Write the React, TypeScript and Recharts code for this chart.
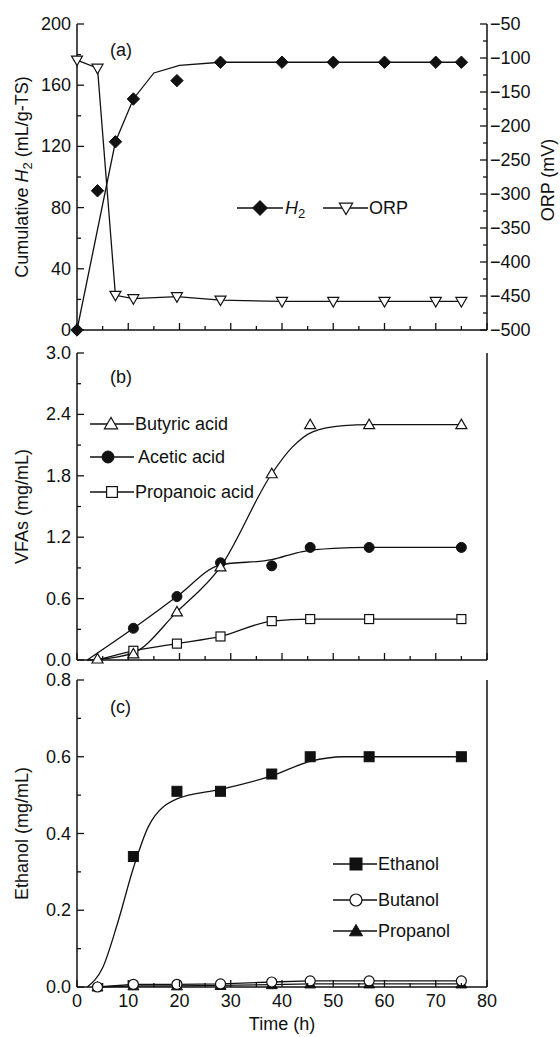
import React from 'react';
import { LineChart, Line, XAxis, YAxis, Legend } from 'recharts';

const FONT = '"Liberation Sans", Arial, Helvetica, sans-serif';
const FS = 18;
const INK = '#111';

// ---- panel (a): cumulative H2 and ORP ----
const timeA = [0, 4, 7.5, 11, 19.5, 28, 40, 50, 60, 70, 75];
const h2 = [0, 91, 123, 151, 163, 175, 175, 175, 175, 175, 175];
const orp = [-103, -115, -449, -454, -451, -456, -458, -458, -458, -458, -458];
const h2FitTime = [0, 7.5, 11, 15, 20, 28, 75];
const h2Fit = [0, 123, 151, 168, 173, 175, 175];

// ---- panel (b): VFAs ----
const timeB = [4, 11, 19.5, 28, 38, 45.5, 57, 75];
const butyric = [0.01, 0.06, 0.47, 0.91, 1.82, 2.3, 2.3, 2.3];
const acetic = [null, 0.31, 0.62, 0.95, 0.92, 1.1, 1.1, 1.1];
const propanoic = [null, 0.09, 0.16, 0.23, 0.38, 0.4, 0.4, 0.4];
const butyricFitTime = [2, 4, 11, 19.5, 28, 38, 42, 46, 52, 57, 75];
const butyricFit = [0, 0.005, 0.07, 0.47, 0.91, 1.82, 2.08, 2.23, 2.29, 2.3, 2.3];
const aceticFitTime = [2, 11, 19.5, 28, 38, 44, 50, 57, 75];
const aceticFit = [0, 0.31, 0.62, 0.93, 0.98, 1.06, 1.09, 1.1, 1.1];
const propanoicFitTime = [4, 11, 19.5, 28, 38, 45.5, 57, 75];
const propanoicFit = [0, 0.09, 0.16, 0.23, 0.38, 0.4, 0.4, 0.4];

// ---- panel (c): alcohols ----
const timeC = [4, 11, 19.5, 28, 38, 45.5, 57, 75];
const ethanol = [null, 0.34, 0.51, 0.51, 0.555, 0.6, 0.6, 0.6];
const butanol = [0, 0.007, 0.007, 0.008, 0.013, 0.016, 0.016, 0.016];
const propanol = [0, 0.003, 0.003, 0.004, 0.006, 0.008, 0.008, 0.008];
const ethanolFitTime = [2, 5, 8, 11, 14, 19.5, 28, 38, 45.5, 52, 75];
const ethanolFit = [0, 0.05, 0.17, 0.31, 0.42, 0.49, 0.515, 0.55, 0.588, 0.6, 0.6];

// ---- ticks ----
const xTicks = [0, 5, 10, 15, 20, 25, 30, 35, 40, 45, 50, 55, 60, 65, 70, 75, 80];
const h2Ticks = [0, 20, 40, 60, 80, 100, 120, 140, 160, 180, 200];
const orpTicks = [-500, -475, -450, -425, -400, -375, -350, -325, -300, -275, -250, -225, -200, -175, -150, -125, -100, -75, -50];
const vfaTicks = [0, 0.3, 0.6, 0.9, 1.2, 1.5, 1.8, 2.1, 2.4, 2.7, 3.0];
const ethTicks = [0, 0.1, 0.2, 0.3, 0.4, 0.5, 0.6, 0.7, 0.8];

type Row = { t: number; [k: string]: number | null };

function buildRows(series: Record<string, [number[], (number | null)[]]>): Row[] {
  const map = new Map<number, Row>();
  Object.entries(series).forEach(([key, [ts, vs]]) => {
    ts.forEach((t, i) => {
      const row = map.get(t) ?? { t };
      row[key] = vs[i];
      map.set(t, row);
    });
  });
  return [...map.values()].sort((a, b) => a.t - b.t);
}

type Kind = 'diamond' | 'triDown' | 'triUp' | 'triUpFill' | 'circleFill' | 'circle' | 'square' | 'squareFill';

function Marker({ kind, cx, cy, s = 1 }: { kind: Kind; cx: number; cy: number; s?: number }) {
  const open = { fill: '#fff', stroke: INK, strokeWidth: 1.2 };
  const solid = { fill: INK, stroke: INK, strokeWidth: 1 };
  switch (kind) {
    case 'diamond': {
      const r = 6.2 * s;
      return <path d={`M${cx},${cy - r}L${cx + r},${cy}L${cx},${cy + r}L${cx - r},${cy}Z`} {...solid} />;
    }
    case 'triDown': {
      const w = 5.5 * s;
      return <path d={`M${cx - w},${cy - 4 * s}L${cx + w},${cy - 4 * s}L${cx},${cy + 5.5 * s}Z`} {...open} />;
    }
    case 'triUp':
    case 'triUpFill': {
      const w = 5.5 * s;
      return (
        <path
          d={`M${cx - w},${cy + 4 * s}L${cx + w},${cy + 4 * s}L${cx},${cy - 5.5 * s}Z`}
          {...(kind === 'triUp' ? open : solid)}
        />
      );
    }
    case 'circle':
    case 'circleFill':
      return <circle cx={cx} cy={cy} r={5 * s} {...(kind === 'circle' ? open : solid)} />;
    case 'square':
    case 'squareFill': {
      const h = (kind === 'square' ? 4.5 : 5) * s;
      return <rect x={cx - h} y={cy - h} width={2 * h} height={2 * h} {...(kind === 'square' ? open : solid)} />;
    }
  }
  return null;
}

const dotOf = (kind: Kind) => (p: any) => {
  if (p.cx == null || p.cy == null || p.value == null) return <g key={`e${p.index}`} />;
  return <Marker key={`m${p.index}`} kind={kind} cx={p.cx} cy={p.cy} />;
};

const txt = { fontFamily: FONT, fontSize: FS, fill: INK };

const tickOf = (side: 'left' | 'right' | 'bottom', major: number, fmt: ((v: number) => string) | null) =>
  (p: any) => {
    const { x, y, payload } = p;
    const v = payload.value as number;
    const isMajor = Math.abs(v / major - Math.round(v / major)) < 1e-6;
    const len = isMajor ? 7 : 4;
    if (side === 'left') {
      return (
        <g>
          <line x1={x} y1={y} x2={x + len} y2={y} stroke={INK} strokeWidth={1.3} />
          {fmt && isMajor && (
            <text x={x - 6} y={y} textAnchor="end" dominantBaseline="central" {...txt}>{fmt(v)}</text>
          )}
        </g>
      );
    }
    if (side === 'right') {
      return (
        <g>
          <line x1={x} y1={y} x2={x - len} y2={y} stroke={INK} strokeWidth={1.3} />
          {fmt && isMajor && (
            <text x={x + 3} y={y} textAnchor="start" dominantBaseline="central" {...txt}>{fmt(v)}</text>
          )}
        </g>
      );
    }
    return (
      <g>
        <line x1={x} y1={y} x2={x} y2={y - len} stroke={INK} strokeWidth={1.3} />
        {fmt && isMajor && (
          <text x={x} y={y + 14} textAnchor="middle" dominantBaseline="central" {...txt}>{fmt(v)}</text>
        )}
      </g>
    );
  };

const intFmt = (v: number) => `${v}`;
const oneDec = (v: number) => v.toFixed(1);
const minusFmt = (v: number) => `${v}`.replace('-', '\u2212');

type LegendItem = { kind: Kind; label: React.ReactNode; x0: number; x1: number; mx: number; tx: number; y: number };

const legendOf = (items: LegendItem[], w: number, h: number) => () => (
  <svg width={w} height={h} style={{ display: 'block', overflow: 'visible' }}>
    {items.map((it, i) => (
      <g key={i}>
        <line x1={it.x0} y1={it.y} x2={it.x1} y2={it.y} stroke={INK} strokeWidth={1.3} />
        <Marker kind={it.kind} cx={it.mx} cy={it.y} s={1.2} />
        <text x={it.tx} y={it.y} dominantBaseline="central" {...txt}>{it.label}</text>
      </g>
    ))}
  </svg>
);

const axisLine = { stroke: INK, strokeWidth: 1.5 };
const lineStyle = { stroke: INK, strokeWidth: 1.3, isAnimationActive: false, activeDot: false, connectNulls: true } as const;

const W = 560;

export default function App() {
  const rowsA = buildRows({ h2: [timeA, h2], orp: [timeA, orp], h2Fit: [h2FitTime, h2Fit] });
  const rowsB = buildRows({
    butyric: [timeB, butyric],
    acetic: [timeB, acetic],
    propanoic: [timeB, propanoic],
    butyricFit: [butyricFitTime, butyricFit],
    aceticFit: [aceticFitTime, aceticFit],
    propanoicFit: [propanoicFitTime, propanoicFit],
  });
  const rowsC = buildRows({
    ethanol: [timeC, ethanol],
    butanol: [timeC, butanol],
    propanol: [timeC, propanol],
    ethanolFit: [ethanolFitTime, ethanolFit],
  });

  const legendA = legendOf(
    [
      {
        kind: 'diamond',
        label: (
          <>
            <tspan fontStyle="italic">H</tspan>
            <tspan fontSize={13} dy={5}>2</tspan>
          </>
        ),
        x0: 237, x1: 283, mx: 260, tx: 285, y: 208,
      },
      { kind: 'triDown', label: 'ORP', x0: 323, x1: 368, mx: 346, tx: 369, y: 208 },
    ],
    W, 345
  );
  const legendB = legendOf(
    [
      { kind: 'triUp', label: 'Butyric acid', x0: 90, x1: 134, mx: 111, tx: 135, y: 94 },
      { kind: 'circleFill', label: 'Acetic acid', x0: 90, x1: 134, mx: 108, tx: 138, y: 127 },
      { kind: 'square', label: 'Propanoic acid', x0: 90, x1: 134, mx: 112, tx: 135, y: 162 },
    ],
    W, 345
  );
  const legendC = legendOf(
    [
      { kind: 'squareFill', label: 'Ethanol', x0: 333, x1: 377, mx: 356, tx: 378, y: 204 },
      { kind: 'circle', label: 'Butanol', x0: 333, x1: 377, mx: 356, tx: 378, y: 240 },
      { kind: 'triUpFill', label: 'Propanol', x0: 333, x1: 377, mx: 356, tx: 378, y: 271 },
    ],
    W, 377
  );

  const legendWrap = (h: number) => ({ left: 0, top: 0, width: W, height: h, pointerEvents: 'none' as const });

  return (
    <div style={{ position: 'absolute', left: 0, top: 0, width: W, height: 1037, background: '#fff', fontFamily: FONT }}>
      {/* (a) */}
      <div style={{ position: 'absolute', left: 0, top: 0 }}>
        <LineChart width={W} height={345} data={rowsA} margin={{ top: 24, right: 0, bottom: 0, left: 0 }}>
          <XAxis dataKey="t" type="number" domain={[0, 80]} ticks={xTicks} interval={0} height={15}
            tickSize={0} tickMargin={0} tickLine={false} axisLine={axisLine} tick={tickOf('bottom', 10, null)} />
          <XAxis xAxisId="top" dataKey="t" type="number" domain={[0, 80]} orientation="top" height={0}
            tick={false} tickLine={false} axisLine={axisLine} />
          <YAxis type="number" domain={[0, 200]} ticks={h2Ticks} interval={0} width={77}
            tickSize={0} tickMargin={0} tickLine={false} axisLine={axisLine} tick={tickOf('left', 40, intFmt)} />
          <YAxis yAxisId="r" orientation="right" type="number" domain={[-500, -50]} ticks={orpTicks} interval={0} width={73}
            tickSize={0} tickMargin={0} tickLine={false} axisLine={axisLine} tick={tickOf('right', 50, minusFmt)} />
          <Line type="linear" dataKey="h2Fit" dot={false} {...lineStyle} />
          <Line type="linear" dataKey="orp" yAxisId="r" dot={dotOf('triDown')} {...lineStyle} />
          <Line type="linear" dataKey="h2" dot={dotOf('diamond')} {...lineStyle} stroke="none" />
          <Legend verticalAlign="middle" align="center" content={legendA} wrapperStyle={legendWrap(345)} />
          <text x={110} y={50} dominantBaseline="central" {...txt}>(a)</text>
          <text transform="rotate(-90)" x={-177} y={22} textAnchor="middle" dominantBaseline="central" {...txt}>
            Cumulative <tspan fontStyle="italic">H</tspan>
            <tspan fontSize={13} dy={5}>2</tspan>
            <tspan dy={-5}> (mL/g-TS)</tspan>
          </text>
          <text transform="rotate(-90)" x={-180} y={548} textAnchor="middle" dominantBaseline="central" {...txt}>
            ORP (mV)
          </text>
        </LineChart>
      </div>

      {/* (b) */}
      <div style={{ position: 'absolute', left: 0, top: 330 }}>
        <LineChart width={W} height={345} data={rowsB} margin={{ top: 23, right: 0, bottom: 0, left: 0 }}>
          <XAxis dataKey="t" type="number" domain={[0, 80]} ticks={xTicks} interval={0} height={15}
            tickSize={0} tickMargin={0} tickLine={false} axisLine={axisLine} tick={tickOf('bottom', 10, null)} />
          <XAxis xAxisId="top" dataKey="t" type="number" domain={[0, 80]} orientation="top" height={0}
            tick={false} tickLine={false} axisLine={axisLine} />
          <YAxis type="number" domain={[0, 3]} ticks={vfaTicks} interval={0} width={77}
            tickSize={0} tickMargin={0} tickLine={false} axisLine={axisLine} tick={tickOf('left', 0.6, oneDec)} />
          <YAxis yAxisId="r" orientation="right" type="number" domain={[0, 3]} width={73}
            tick={false} tickLine={false} axisLine={axisLine} />
          <Line type="monotone" dataKey="butyricFit" dot={false} {...lineStyle} />
          <Line type="monotone" dataKey="aceticFit" dot={false} {...lineStyle} />
          <Line type="monotone" dataKey="propanoicFit" dot={false} {...lineStyle} />
          <Line type="linear" dataKey="propanoic" dot={dotOf('square')} {...lineStyle} stroke="none" />
          <Line type="linear" dataKey="acetic" dot={dotOf('circleFill')} {...lineStyle} stroke="none" />
          <Line type="linear" dataKey="butyric" dot={dotOf('triUp')} {...lineStyle} stroke="none" />
          <Legend verticalAlign="middle" align="center" content={legendB} wrapperStyle={legendWrap(345)} />
          <text x={110} y={47} dominantBaseline="central" {...txt}>(b)</text>
          <text transform="rotate(-90)" x={-176.5} y={22} textAnchor="middle" dominantBaseline="central" {...txt}>
            VFAs (mg/mL)
          </text>
        </LineChart>
      </div>

      {/* (c) */}
      <div style={{ position: 'absolute', left: 0, top: 660 }}>
        <LineChart width={W} height={377} data={rowsC} margin={{ top: 20, right: 0, bottom: 0, left: 0 }}>
          <XAxis dataKey="t" type="number" domain={[0, 80]} ticks={xTicks} interval={0} height={50}
            tickSize={0} tickMargin={0} tickLine={false} axisLine={axisLine} tick={tickOf('bottom', 10, intFmt)} />
          <XAxis xAxisId="top" dataKey="t" type="number" domain={[0, 80]} orientation="top" height={0}
            tick={false} tickLine={false} axisLine={axisLine} />
          <YAxis type="number" domain={[0, 0.8]} ticks={ethTicks} interval={0} width={77}
            tickSize={0} tickMargin={0} tickLine={false} axisLine={axisLine} tick={tickOf('left', 0.2, oneDec)} />
          <YAxis yAxisId="r" orientation="right" type="number" domain={[0, 0.8]} width={73}
            tick={false} tickLine={false} axisLine={axisLine} />
          <Line type="monotone" dataKey="ethanolFit" dot={false} {...lineStyle} />
          <Line type="linear" dataKey="propanol" dot={dotOf('triUpFill')} {...lineStyle} />
          <Line type="linear" dataKey="butanol" dot={dotOf('circle')} {...lineStyle} />
          <Line type="linear" dataKey="ethanol" dot={dotOf('squareFill')} {...lineStyle} stroke="none" />
          <Legend verticalAlign="middle" align="center" content={legendC} wrapperStyle={legendWrap(377)} />
          <text x={110} y={47} dominantBaseline="central" {...txt}>(c)</text>
          <text transform="rotate(-90)" x={-173.5} y={22} textAnchor="middle" dominantBaseline="central" {...txt}>
            Ethanol (mg/mL)
          </text>
          <text x={282} y={364} textAnchor="middle" dominantBaseline="central" {...txt}>Time (h)</text>
        </LineChart>
      </div>
    </div>
  );
}
